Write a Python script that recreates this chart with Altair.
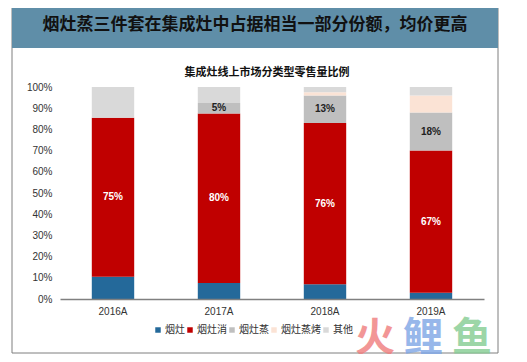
import altair as alt
import pandas as pd

years = ["2016A", "2017A", "2018A", "2019A"]
series = ["烟灶", "烟灶消", "烟灶蒸", "烟灶蒸烤", "其他"]
v_yanzao = [10.5, 7.5, 7.0, 3.0]
v_xiao = [75, 80, 76, 67]
v_zheng = [0, 5, 13, 18]
v_zhengkao = [0, 0, 1.5, 8.0]
v_other = [14.5, 7.5, 2.5, 4.0]
y_ticks = [0, 10, 20, 30, 40, 50, 60, 70, 80, 90, 100]
colors = ["#24699A", "#C00000", "#BFBFBF", "#FBE3D5", "#D9D9D9"]
title_text = "烟灶蒸三件套在集成灶中占据相当一部分份额，均价更高"
subtitle_text = "集成灶线上市场分类型零售量比例"
wm_chars = ["火", "鲤", "鱼"]
wm_colors = ["#F07C7C", "#7EA6E6", "#84CC92"]

rows = []
vals = [v_yanzao, v_xiao, v_zheng, v_zhengkao, v_other]
for i, y in enumerate(years):
    base = 0.0
    for s, v in zip(series, vals):
        rows.append({"year": y, "series": s, "value": v[i], "y0": base, "y1": base + v[i],
                     "mid": base + v[i] / 2})
        base += v[i]
df = pd.DataFrame(rows)
lab = df[(df.series.isin(["烟灶消", "烟灶蒸"])) & (df.value > 0)].copy()
lab["txt"] = lab["value"].round().astype(int).astype(str) + "%"
lab["tc"] = lab["series"].map({"烟灶消": "#FFFFFF", "烟灶蒸": "#222222"})

one = pd.DataFrame({"a": [0]})

yaxis = alt.Axis(values=y_ticks, labelExpr="datum.value + '%'", grid=False, tickCount=11,
                 domain=False, ticks=False, labelFont="Liberation Sans", labelFontSize=10,
                 labelColor="#333333", labelPadding=8, zindex=1, labelOverlap=False)
xaxis = alt.Axis(labelAngle=0, ticks=False, domainColor="#808080", domainWidth=1.5,
                 labelFont="Liberation Sans", zindex=1,
                 labelFontSize=10, labelColor="#333333", labelPadding=7)
yscale = alt.Scale(domain=[0, 100], nice=False)
xscale = alt.Scale(paddingInner=0.6, paddingOuter=0.3)

panel = alt.Chart(one).mark_rect(fill="white", stroke="#7F7F7F", strokeWidth=1).encode(
    x=alt.value(-48), x2=alt.value(438), y=alt.value(-84), y2=alt.value(266))
banner = alt.Chart(one).mark_rect(fill="#5F8EA8").encode(
    x=alt.value(-48), x2=alt.value(438), y=alt.value(-84), y2=alt.value(-39))
btitle = alt.Chart(one).mark_text(text=title_text, font="Noto Sans CJK SC", fontSize=17,
                                  fontWeight="bold", color="#111111").encode(
    x=alt.value(195), y=alt.value(-62))
stitle = alt.Chart(one).mark_text(text=subtitle_text, font="Noto Sans CJK SC", fontSize=11,
                                  fontWeight="bold", color="#111111").encode(
    x=alt.value(207), y=alt.value(-14))

bars = alt.Chart(df).mark_bar().encode(
    x=alt.X("year:N", sort=years, title=None, scale=xscale, axis=xaxis),
    y=alt.Y("y0:Q", title=None, scale=yscale, axis=yaxis),
    y2="y1:Q",
    color=alt.Color("series:N", scale=alt.Scale(domain=series, range=colors),
                    legend=alt.Legend(title=None, orient="none", legendX=93, legendY=238,
                                      direction="horizontal", symbolType="square", symbolSize=30,
                                      labelFont="Noto Sans CJK SC", labelFontSize=10,
                                      labelColor="#333333", columnPadding=0, labelOffset=2,
                                      symbolOffset=0, symbolStrokeWidth=0)),
    order=alt.Order("y0:Q"),
)

labels = alt.Chart(lab).mark_text(font="Liberation Sans", fontSize=10, fontWeight="bold").encode(
    x=alt.X("year:N", sort=years, title=None, scale=xscale, axis=xaxis),
    y=alt.Y("mid:Q", title=None, scale=yscale, axis=yaxis),
    text="txt:N",
    fill=alt.Fill("tc:N", scale=None),
)

water_layers = []
for ch, col, xp in zip(wm_chars, wm_colors, [315, 363, 412]):
    water_layers.append(
        alt.Chart(one).mark_text(text=ch, font="Noto Sans CJK SC", fontSize=40, fontWeight="bold",
                                 opacity=0.8, color=col).encode(x=alt.value(xp), y=alt.value(252))
    )

chart = alt.layer(panel, banner, btitle, stitle, bars, labels, *water_layers).properties(
    width=424, height=212,
    autosize=alt.AutoSizeParams(type="none"),
    padding={"left": 52, "top": 79, "right": 35, "bottom": 55},
).configure_view(stroke=None)

chart.save("out.html", embed_options={"renderer": "svg", "actions": False})
